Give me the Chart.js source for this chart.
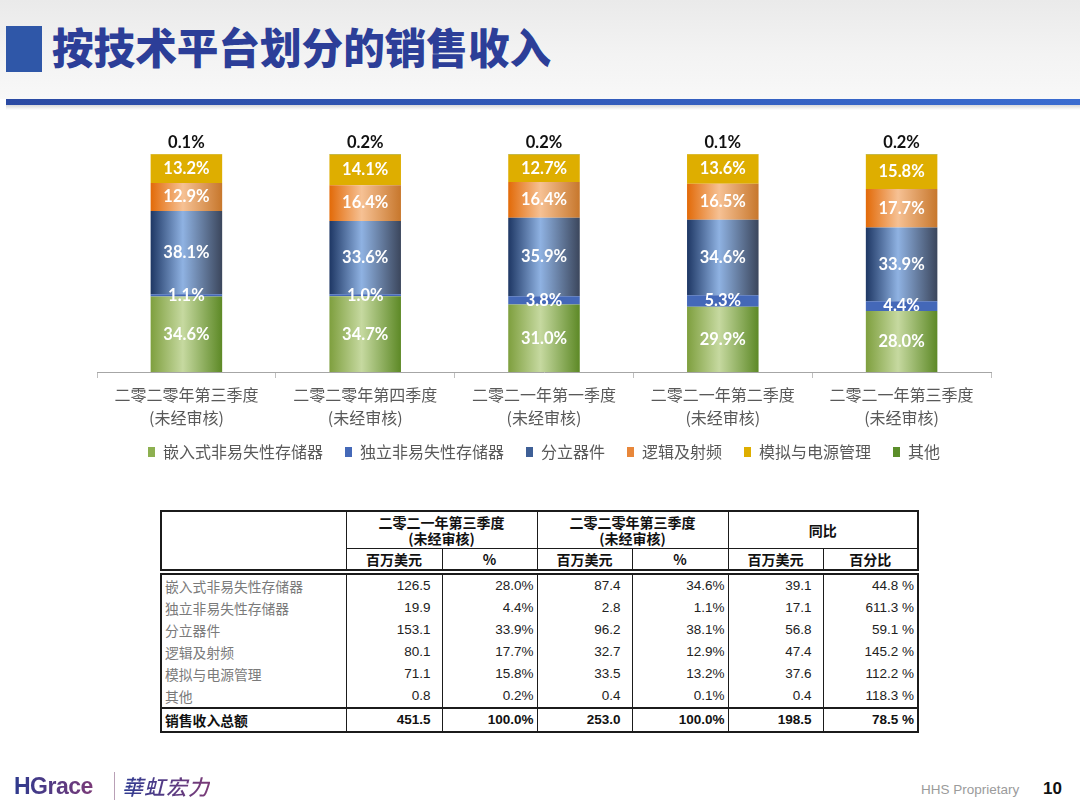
<!DOCTYPE html>
<html>
<head>
<meta charset="utf-8">
<script src="https://cdn.jsdelivr.net/npm/chart.js@4.4.1/dist/chart.umd.min.js"></script>
<style>
  html, body { margin:0; padding:0; }
  body { width:1080px; height:811px; position:relative; overflow:hidden; background:#fff;
         font-family:"Noto Sans CJK SC","Noto Sans",sans-serif; }
  #band { position:absolute; left:0; top:0; width:1080px; height:99px;
          background:linear-gradient(180deg,#eaeaea 0%,#f3f3f3 55%,#f8f8f8 100%); }
  #sq { position:absolute; left:6px; top:26px; width:36px; height:46px; background:#2F57A8; }
  #title { position:absolute; left:52px; top:18px; font-size:41.6px; line-height:56px; font-weight:900;
           color:#2C3E98; letter-spacing:0; white-space:nowrap; }
  #rule { position:absolute; left:6px; top:99px; width:1074px; height:6px;
          background:linear-gradient(90deg,#2B4AA3 0%,#3159B8 50%,#3A6CD0 100%); }
  #ruleShadow { position:absolute; left:6px; top:105px; width:1074px; height:5px;
          background:linear-gradient(180deg,#d8d8d8,#ffffff); }
  #chartWrap { position:absolute; left:0; top:120px; width:1080px; height:360px; }
  .tbl { position:absolute; left:160px; width:757px; border-collapse:collapse; table-layout:fixed;
         border:2px solid #1b1b1b; }
  .tbl td { padding:0; border-left:1.5px solid #1b1b1b; border-right:1.5px solid #1b1b1b; }
  #thead { top:510px; }
  #thead td { text-align:center; font-weight:700; font-size:14px; color:#111; border:1.5px solid #1b1b1b; }
  #thead .r1 td { height:36px; line-height:16px; }
  #thead .r2 td { height:20px; line-height:18px; }
  #tbody { top:573px; }
  #tbody td { height:22px; line-height:22px; font-size:13.5px; color:#222; text-align:right;
              font-family:"Liberation Sans",Arial,sans-serif; }
  #tbody td.lab { text-align:left; padding-left:3px; color:#7a7a7a; font-family:"Noto Sans CJK SC",sans-serif; font-size:13.8px; }
  #tbody td.num { padding-right:11px; }
  #tbody td.pct { padding-right:3px; }
  #tbody tr.total td { border-top:2px solid #1b1b1b; font-weight:700; color:#111; }
  #tbody tr.total td.lab { color:#111; font-weight:700; }
  #logo { position:absolute; left:14px; top:770px; height:32px; white-space:nowrap; }
  #logoEn { position:absolute; left:0; top:0; font-family:"Liberation Sans",Arial,sans-serif; font-weight:700;
            font-size:23px; line-height:32px; letter-spacing:-0.5px;
            background:linear-gradient(90deg,#2E3A8E,#7A3A78); -webkit-background-clip:text; color:transparent; }
  #logoBar { position:absolute; left:100px; top:2px; width:1px; height:28px; background:#b9a0b6; }
  #logoCn { position:absolute; left:108px; top:0; font-family:"Noto Sans CJK TC",sans-serif; font-weight:500;
            font-size:21px; line-height:32px; letter-spacing:1px; font-style:italic;
            background:linear-gradient(90deg,#2F3C92,#7B3A76); -webkit-background-clip:text; color:transparent; }
  #prop { position:absolute; left:921px; top:782px; font-family:"Liberation Sans",Arial,sans-serif;
          font-size:13.5px; color:#9b9b9b; }
  #page { position:absolute; left:1043px; top:779px; font-family:"Liberation Sans",Arial,sans-serif;
          font-size:17px; font-weight:700; color:#111; }
</style>
</head>
<body>
<div id="band"></div>
<div id="sq"></div>
<div id="title">按技术平台划分的销售收入</div>
<div id="rule"></div>
<div id="ruleShadow"></div>

<div id="chartWrap"><canvas id="c" width="1080" height="360"></canvas></div>

<table class="tbl" id="thead">
  <colgroup><col style="width:185px"><col style="width:96px"><col style="width:95px"><col style="width:95px"><col style="width:96px"><col style="width:95px"><col style="width:95px"></colgroup>
  <tr class="r1"><td rowspan="2"></td><td colspan="2" id="h1"></td><td colspan="2" id="h2"></td><td colspan="2" id="h3"></td></tr>
  <tr class="r2" id="subhead"></tr>
</table>
<table class="tbl" id="tbody">
  <colgroup><col style="width:185px"><col style="width:96px"><col style="width:95px"><col style="width:95px"><col style="width:96px"><col style="width:95px"><col style="width:95px"></colgroup>
  <tbody id="tb"></tbody>
</table>

<div id="logo"><span id="logoEn">HGrace</span><span id="logoBar"></span><span id="logoCn">華虹宏力</span></div>
<div id="prop">HHS Proprietary</div>
<div id="page">10</div>

<script>
// ---------- chart data ----------
const categories = [
  ['二零二零年第三季度','(未经审核)'],
  ['二零二零年第四季度','(未经审核)'],
  ['二零二一年第一季度','(未经审核)'],
  ['二零二一年第二季度','(未经审核)'],
  ['二零二一年第三季度','(未经审核)']
];
const seriesNames = ['嵌入式非易失性存储器','独立非易失性存储器','分立器件','逻辑及射频','模拟与电源管理','其他'];
const embeddedNVM = [34.6, 34.7, 31.0, 29.9, 28.0];
const standaloneNVM = [1.1, 1.0, 3.8, 5.3, 4.4];
const discrete = [38.1, 33.6, 35.9, 34.6, 33.9];
const logicRF = [12.9, 16.4, 16.4, 16.5, 17.7];
const analogPM = [13.2, 14.1, 12.7, 13.6, 15.8];
const others = [0.1, 0.2, 0.2, 0.1, 0.2];

// ---------- table data ----------
const tableHeaders = ['二零二一年第三季度<br>(未经审核)', '二零二零年第三季度<br>(未经审核)', '同比'];
const tableSubHeaders = ['百万美元','%','百万美元','%','百万美元','百分比'];
const tableRows = ['嵌入式非易失性存储器','独立非易失性存储器','分立器件','逻辑及射频','模拟与电源管理','其他'];
const q3y21Usd = ['126.5','19.9','153.1','80.1','71.1','0.8'];
const q3y21Pct = ['28.0%','4.4%','33.9%','17.7%','15.8%','0.2%'];
const q3y20Usd = ['87.4','2.8','96.2','32.7','33.5','0.4'];
const q3y20Pct = ['34.6%','1.1%','38.1%','12.9%','13.2%','0.1%'];
const yoyUsd = ['39.1','17.1','56.8','47.4','37.6','0.4'];
const yoyPct = ['44.8 %','611.3 %','59.1 %','145.2 %','112.2 %','118.3 %'];
const totalLabel = '销售收入总额';
const totalRow = ['451.5','100.0%','253.0','100.0%','198.5','78.5 %'];

// ---------- build table ----------
document.getElementById('h1').innerHTML = tableHeaders[0];
document.getElementById('h2').innerHTML = tableHeaders[1];
document.getElementById('h3').innerHTML = tableHeaders[2];
document.getElementById('subhead').innerHTML = tableSubHeaders.map(s => '<td>' + s + '</td>').join('');
const cls = ['num','pct','num','pct','num','pct'];
let html = '';
tableRows.forEach((name, i) => {
  const vals = [q3y21Usd[i], q3y21Pct[i], q3y20Usd[i], q3y20Pct[i], yoyUsd[i], yoyPct[i]];
  html += '<tr><td class="lab">' + name + '</td>' + vals.map((v, j) => '<td class="' + cls[j] + '">' + v + '</td>').join('') + '</tr>';
});
html += '<tr class="total"><td class="lab">' + totalLabel + '</td>' + totalRow.map((v, j) => '<td class="' + cls[j] + '">' + v + '</td>').join('') + '</tr>';
document.getElementById('tb').innerHTML = html;

// ---------- chart ----------
const BAR_FRAC = 0.4;
function gradFill(stops, solid) {
  return function(ctx) {
    const chart = ctx.chart;
    const xs = chart.scales && chart.scales.x;
    if (!chart.chartArea || !xs || ctx.dataIndex === undefined) return solid;
    const cx = xs.getPixelForValue(ctx.dataIndex);
    const hw = xs.width / categories.length * BAR_FRAC / 2;
    const g = chart.ctx.createLinearGradient(cx - hw, 0, cx + hw, 0);
    stops.forEach(s => g.addColorStop(s[0], s[1]));
    return g;
  };
}
const solidColors = ['#8DB050', '#4569B8', '#3E5F96', '#E8873A', '#DEAE00', '#5B8E2A'];
const fills = [
  gradFill([[0,'#7E9F3E'],[0.45,'#C6D9A0'],[1,'#5D8926']], solidColors[0]),
  '#4468B8',
  gradFill([[0,'#1E3764'],[0.45,'#8FB2E2'],[1,'#3B465C']], solidColors[2]),
  gradFill([[0,'#E26A08'],[0.45,'#F6C194'],[1,'#C7772C']], solidColors[3]),
  '#DEAE00',
  '#5B8E2A'
];
const seriesData = [embeddedNVM, standaloneNVM, discrete, logicRF, analogPM, others];

const labelPlugin = {
  id: 'segLabels',
  afterDatasetsDraw(chart) {
    const c = chart.ctx;
    c.save();
    c.textAlign = 'center';
    c.textBaseline = 'middle';
    chart.data.datasets.forEach((ds, di) => {
      const meta = chart.getDatasetMeta(di);
      meta.data.forEach((el, i) => {
        const txt = ds.data[i].toFixed(1) + '%';
        if (di === chart.data.datasets.length - 1) {
          c.font = 'bold 16.5px Lato, "Open Sans", sans-serif';
          c.fillStyle = '#111111';
          c.fillText(txt, el.x, el.y - 11);
        } else {
          c.font = 'bold 16.5px Lato, "Open Sans", sans-serif';
          c.fillStyle = '#ffffff';
          c.fillText(txt, el.x, (el.y + el.base) / 2);
        }
      });
    });
    c.restore();
  }
};

const nItems = seriesNames.length;
new Chart(document.getElementById('c'), {
  type: 'bar',
  data: {
    labels: categories,
    datasets: seriesNames.map((n, i) => ({
      label: n,
      data: seriesData[i],
      backgroundColor: fills[i],
      borderWidth: 0,
      categoryPercentage: 1.0,
      barPercentage: BAR_FRAC
    }))
  },
  options: {
    responsive: false,
    animation: false,
    devicePixelRatio: 1,
    layout: { padding: { left: 97, right: 89, top: 34, bottom: 10 } },
    scales: {
      x: {
        stacked: true,
        grid: { display: true, drawOnChartArea: false, drawTicks: true, tickLength: 6, color: '#BFBFBF', offset: true },
        border: { display: true, color: '#A6A6A6', width: 1 },
        ticks: { color: '#595959', padding: 5, font: { family: '"Noto Sans CJK SC", sans-serif', size: 16, lineHeight: 1.44 }, maxRotation: 0, autoSkip: false },
        afterFit: (s) => { s.height = 58; }
      },
      y: { stacked: true, display: false, min: 0, max: 100 }
    },
    plugins: {
      tooltip: { enabled: false },
      legend: {
        position: 'bottom',
        labels: {
          boxWidth: 7, boxHeight: 10, padding: 14, color: '#595959',
          font: { family: '"Noto Sans CJK SC", sans-serif', size: 16 },
          generateLabels: (chart) => chart.data.datasets.map((ds, i) => ({
            text: ds.label + (i < nItems - 1 ? '\u2002' : ''), fillStyle: solidColors[i], strokeStyle: solidColors[i], lineWidth: 0,
            fontColor: '#595959', hidden: false, datasetIndex: i
          }))
        }
      }
    }
  },
  plugins: [labelPlugin]
});
</script>
</body>
</html>
